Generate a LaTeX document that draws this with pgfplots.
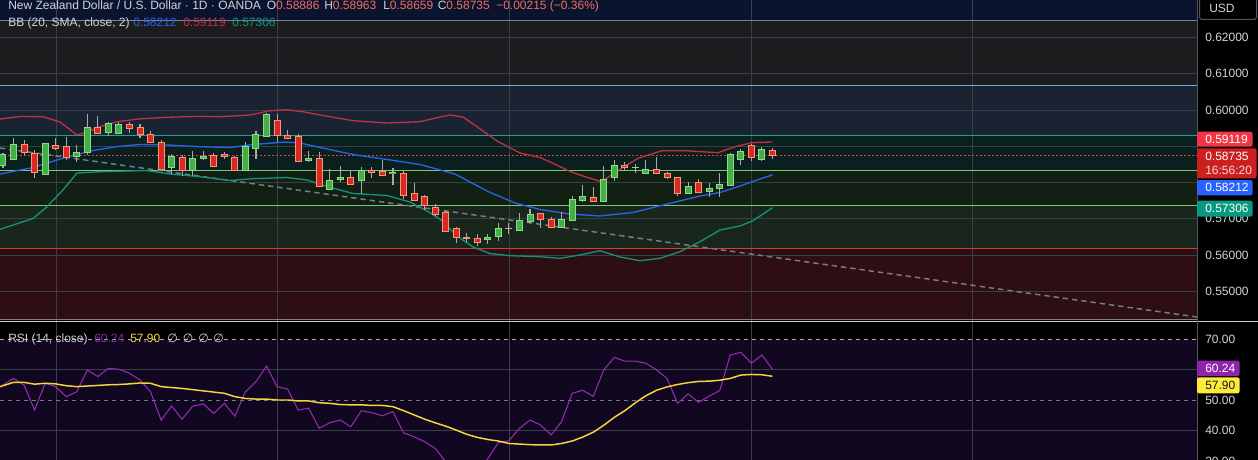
\documentclass[border=0pt]{standalone}
\usepackage{pgfplots}
\pgfplotsset{compat=1.18}
\usepackage{pgfplotstable}
\usepackage{fontspec}
\setmainfont{Liberation Sans}
\newfontfamily\dejavu{DejaVu Sans}

\definecolor{hdrbg}{RGB}{11,20,46}
\definecolor{zgray}{RGB}{28,28,30}
\definecolor{znavy}{RGB}{25,35,50}
\definecolor{zteal}{RGB}{10,32,30}
\definecolor{zgreenA}{RGB}{18,32,20}
\definecolor{zgreenB}{RGB}{25,38,28}
\definecolor{zred}{RGB}{44,14,19}
\definecolor{lhdr}{RGB}{120,130,150}
\definecolor{lblue}{RGB}{110,170,230}
\definecolor{lteal}{RGB}{40,160,140}
\definecolor{lgreen}{RGB}{120,200,120}
\definecolor{lred}{RGB}{215,60,60}
\definecolor{gridc}{RGB}{58,62,72}
\definecolor{txt}{RGB}{209,212,220}
\definecolor{valred}{RGB}{242,110,95}
\definecolor{bbup}{RGB}{190,48,70}
\definecolor{bbmid}{RGB}{41,98,235}
\definecolor{bblow}{RGB}{20,145,120}
\definecolor{upfill}{RGB}{67,176,71}
\definecolor{upedge}{RGB}{140,220,135}
\definecolor{dnfill}{RGB}{218,40,35}
\definecolor{dnedge}{RGB}{248,150,120}
\definecolor{wick}{RGB}{165,170,178}
\definecolor{trend}{RGB}{120,125,135}
\definecolor{rsibg}{RGB}{18,7,32}
\definecolor{rsic}{RGB}{145,45,175}
\definecolor{rsima}{RGB}{245,215,60}
\definecolor{boxred}{RGB}{242,54,69}
\definecolor{boxdred}{RGB}{204,32,32}
\definecolor{boxblue}{RGB}{41,98,255}
\definecolor{boxteal}{RGB}{8,153,129}
\definecolor{boxpurp}{RGB}{142,36,170}
\definecolor{boxyel}{RGB}{255,235,59}
\definecolor{sepc}{RGB}{200,200,205}
\definecolor{axsep}{RGB}{80,84,94}
\definecolor{dashc}{RGB}{120,123,134}
\definecolor{dashl}{RGB}{180,182,190}
\definecolor{darktxt}{RGB}{19,23,34}

% green (up) candles: i O H L C
\pgfplotstableread{
i O H L C
0 0.58483 0.58822 0.58409 0.58778
1 0.58640 0.59219 0.58621 0.59054
4 0.58227 0.59098 0.58207 0.59082
7 0.58723 0.59026 0.58574 0.58833
8 0.58822 0.59890 0.58759 0.59531
10 0.59385 0.59661 0.59291 0.59633
11 0.59346 0.59661 0.59330 0.59614
16 0.58409 0.58795 0.58227 0.58723
18 0.58345 0.58869 0.58171 0.58668
19 0.58668 0.58869 0.58621 0.58731
23 0.58337 0.59109 0.58320 0.59007
24 0.58944 0.59429 0.58640 0.59330
25 0.59264 0.59926 0.59250 0.59890
29 0.58613 0.58869 0.58574 0.58657
31 0.57813 0.58373 0.57800 0.58069
32 0.58089 0.58456 0.58006 0.58152
34 0.58069 0.58428 0.57692 0.58337
37 0.58243 0.58409 0.57931 0.58290
46 0.56423 0.56588 0.56304 0.56497
47 0.56506 0.56892 0.56395 0.56737
49 0.56690 0.57168 0.56671 0.56958
50 0.56919 0.57270 0.56892 0.57132
53 0.56754 0.57187 0.56737 0.56994
54 0.56966 0.57628 0.56950 0.57537
55 0.57498 0.57931 0.57463 0.57628
57 0.57482 0.58456 0.57470 0.58089
58 0.58144 0.58621 0.58050 0.58475
60 0.58409 0.58511 0.58254 0.58428
61 0.58254 0.58613 0.58240 0.58365
65 0.57703 0.58014 0.57690 0.57904
67 0.57758 0.57987 0.57609 0.57841
68 0.57829 0.58271 0.57609 0.57951
69 0.57923 0.58806 0.57910 0.58778
70 0.58640 0.58933 0.58491 0.58861
72 0.58629 0.58971 0.58602 0.58924
}\upc

% red (down) candles
\pgfplotstableread{
i O H L C
2 0.59054 0.59173 0.58759 0.58833
3 0.58806 0.58897 0.58133 0.58282
5 0.59026 0.59219 0.58889 0.58933
6 0.58980 0.59247 0.58621 0.58684
9 0.59523 0.59826 0.59340 0.59357
12 0.59606 0.59661 0.59357 0.59495
13 0.59523 0.59614 0.59219 0.59330
14 0.59330 0.59413 0.59082 0.59109
15 0.59109 0.59173 0.58337 0.58353
17 0.58704 0.58759 0.58171 0.58337
20 0.58759 0.58822 0.58420 0.58456
21 0.58786 0.58850 0.58640 0.58712
22 0.58704 0.58731 0.58326 0.58337
26 0.59697 0.59890 0.59109 0.59291
27 0.59302 0.59448 0.59192 0.59219
28 0.59264 0.59330 0.58574 0.58593
30 0.58668 0.58833 0.57876 0.57904
33 0.58152 0.58326 0.57931 0.57951
35 0.58337 0.58428 0.58116 0.58271
36 0.58318 0.58621 0.58188 0.58199
38 0.58254 0.58326 0.57537 0.57647
39 0.57703 0.57995 0.57490 0.57498
40 0.57620 0.57656 0.57242 0.57372
41 0.57316 0.57399 0.57085 0.57112
42 0.57187 0.57242 0.56627 0.56644
43 0.56737 0.56765 0.56324 0.56478
44 0.56478 0.56599 0.56351 0.56451
45 0.56462 0.56572 0.56257 0.56351
48 0.56746 0.56883 0.56572 0.56726
51 0.57132 0.57150 0.56754 0.56974
52 0.56994 0.57041 0.56740 0.56754
56 0.57592 0.57876 0.57454 0.57482
59 0.58483 0.58558 0.58345 0.58420
62 0.58373 0.58704 0.58235 0.58254
63 0.58254 0.58298 0.58105 0.58144
64 0.58144 0.58160 0.57628 0.57703
66 0.58006 0.58097 0.57703 0.57730
71 0.59007 0.59054 0.58602 0.58684
73 0.58886 0.58963 0.58659 0.58735
}\dnc

\pgfplotstableread{
i p
-0.28 0.59752
1.61 0.59821
3.80 0.59815
5.41 0.59669
7.02 0.59310
7.97 0.59393
9.20 0.59539
10.82 0.59677
13.00 0.59757
15.56 0.59799
18.69 0.59826
20.59 0.59815
23.43 0.59862
25.33 0.59981
26.94 0.60008
28.46 0.59953
30.08 0.59862
33.21 0.59705
36.43 0.59641
39.56 0.59677
41.46 0.59807
42.41 0.59862
43.64 0.59807
44.97 0.59539
46.87 0.59145
49.05 0.58814
50.95 0.58690
52.18 0.58530
53.80 0.58304
55.22 0.58160
56.80 0.58023
58.70 0.58400
60.25 0.58667
62.50 0.58877
64.71 0.58877
67.84 0.58822
69.45 0.58988
71.03 0.59098
73.00 0.59119
}\bbupper

\pgfplotstableread{
i p
-0.28 0.58235
2.85 0.58414
6.07 0.58704
8.54 0.58883
10.82 0.58993
13.00 0.59048
15.56 0.59035
18.69 0.58988
21.54 0.58966
23.72 0.59048
26.76 0.59117
28.18 0.59090
30.08 0.58966
33.21 0.58773
36.43 0.58635
39.56 0.58497
42.88 0.58235
46.02 0.57752
48.58 0.57435
50.95 0.57256
53.80 0.57132
56.64 0.57077
59.77 0.57173
63.00 0.57407
66.13 0.57628
68.03 0.57725
69.92 0.57904
71.82 0.58097
73.00 0.58212
}\bbmiddle

\pgfplotstableread{
i p
-0.28 0.56710
2.85 0.57008
4.17 0.57333
5.69 0.57794
7.02 0.58262
9.20 0.58298
13.66 0.58331
15.84 0.58235
18.69 0.58160
21.54 0.58056
23.72 0.58105
26.94 0.58138
28.84 0.58069
31.02 0.57868
33.21 0.57697
36.43 0.57642
38.61 0.57463
40.23 0.57214
41.46 0.56994
43.07 0.56525
44.59 0.56222
46.20 0.56042
48.10 0.55982
50.95 0.55954
52.85 0.55910
54.74 0.56001
56.64 0.56119
58.54 0.55946
60.44 0.55844
62.33 0.55910
64.23 0.56092
66.13 0.56368
68.03 0.56691
69.92 0.56801
71.16 0.56947
73.00 0.57306
}\bblower

\pgfplotstableread{
i r
-0.28 54.5
0 55.0
1 57.2
2 55.0
3 46.8
4 55.6
5 54.5
6 51.2
7 52.8
8 60.0
9 57.8
10 60.5
11 60.2
12 58.9
13 56.7
14 52.8
15 43.5
16 48.1
17 43.8
18 48.1
19 48.8
20 45.7
21 49.0
22 44.8
23 52.8
24 56.1
25 61.3
26 54.5
27 53.7
28 46.8
29 47.4
30 40.8
31 42.6
32 43.5
33 41.3
34 46.6
35 45.9
36 44.9
37 46.3
38 39.3
39 38.0
40 36.4
41 34.2
42 29.8
43 27.0
44 27.5
45 26.5
46 30.8
47 36.1
48 36.7
49 40.8
50 43.5
51 41.9
52 38.6
53 43.0
54 52.3
55 53.3
56 51.3
57 60.0
58 64.1
59 62.9
60 62.9
61 62.2
62 60.0
63 57.2
64 49.0
65 52.1
66 49.3
67 51.4
68 53.2
69 64.9
70 65.8
71 62.2
72 64.9
73 60.24
}\rsitab

\pgfplotstableread{
i m
-0.28 54.5
0 54.8
1 55.9
2 55.9
3 55.3
4 55.6
5 55.4
6 54.8
7 54.5
8 54.7
9 54.9
10 55.1
11 55.2
12 55.4
13 55.7
14 55.6
15 54.5
16 54.2
17 53.9
18 53.5
19 53.1
20 52.7
21 52.3
22 51.2
23 50.6
24 50.4
25 50.4
26 50.1
27 50.1
28 49.8
29 49.8
30 49.2
31 49.0
32 48.6
33 48.5
34 48.5
35 48.3
36 48.3
37 47.9
38 46.6
39 45.2
40 43.8
41 42.6
42 41.5
43 40.2
44 38.8
45 37.8
46 37.1
47 36.6
48 35.8
49 35.6
50 35.4
51 35.3
52 35.3
53 35.8
54 36.6
55 37.9
56 39.5
57 41.8
58 44.4
59 46.6
60 49.2
61 51.5
62 53.3
63 54.4
64 55.2
65 55.8
66 56.2
67 56.3
68 56.6
69 57.2
70 58.3
71 58.5
72 58.4
73 57.9
}\rsimatab

\begin{document}
\begin{tikzpicture}
\useasboundingbox (0pt,0pt) rectangle (943.5pt,-345pt);
\clip (0pt,0pt) rectangle (943.5pt,-345pt);
\fill[black] (0pt,0pt) rectangle (943.5pt,-345pt);

%================ MAIN PRICE PANEL ================
\begin{axis}[
  at={(0pt,0pt)}, anchor=north west, scale only axis,
  width=897.75pt, height=240pt,
  xmin=-0.2846, xmax=113.28, ymin=0.542082, ymax=0.630338,
  axis line style={draw=none}, major tick length=0pt, tick style={draw=none},
  xtick=\empty,
  ytick={0.55,0.56,0.57,0.60,0.61,0.62},
  yticklabel pos=right, scaled y ticks=false,
  /pgf/number format/fixed, /pgf/number format/fixed zerofill,
  /pgf/number format/precision=5, /pgf/number format/assume math mode=true,
  yticklabel style={font=\fontsize{9}{10}\selectfont, text=txt, anchor=west, inner sep=0pt, xshift=6pt},
]
% zones
\fill[hdrbg] (axis cs:-1,0.62455) rectangle (axis cs:114,0.64);
\fill[zgray] (axis cs:-1,0.60681) rectangle (axis cs:114,0.62455);
\fill[znavy] (axis cs:-1,0.59302) rectangle (axis cs:114,0.60681);
\fill[zteal] (axis cs:-1,0.58337) rectangle (axis cs:114,0.59302);
\fill[zgreenA] (axis cs:-1,0.57372) rectangle (axis cs:114,0.58337);
\fill[zgreenB] (axis cs:-1,0.56175) rectangle (axis cs:114,0.57372);
\fill[zred] (axis cs:-1,0.54228) rectangle (axis cs:114,0.56175);
% grid
\draw[gridc, line width=0.75pt] (axis cs:-1,0.55) -- (axis cs:114,0.55);
\draw[gridc, line width=0.75pt] (axis cs:-1,0.56) -- (axis cs:114,0.56);
\draw[gridc, line width=0.75pt] (axis cs:-1,0.57) -- (axis cs:114,0.57);
\draw[gridc, line width=0.75pt] (axis cs:-1,0.58) -- (axis cs:114,0.58);
\draw[gridc, line width=0.75pt] (axis cs:-1,0.59) -- (axis cs:114,0.59);
\draw[gridc, line width=0.75pt] (axis cs:-1,0.60) -- (axis cs:114,0.60);
\draw[gridc, line width=0.75pt] (axis cs:-1,0.61) -- (axis cs:114,0.61);
\draw[gridc, line width=0.75pt] (axis cs:-1,0.62) -- (axis cs:114,0.62);
\draw[gridc, line width=0.75pt] (axis cs:5.12,0.54) -- (axis cs:5.12,0.631);
\draw[gridc, line width=0.75pt] (axis cs:26.09,0.54) -- (axis cs:26.09,0.631);
\draw[gridc, line width=0.75pt] (axis cs:48.01,0.54) -- (axis cs:48.01,0.631);
\draw[gridc, line width=0.75pt] (axis cs:71.06,0.54) -- (axis cs:71.06,0.631);
\draw[gridc, line width=0.75pt] (axis cs:91.94,0.54) -- (axis cs:91.94,0.631);
% zone edges
\draw[lhdr, line width=0.75pt] (axis cs:-1,0.62455) -- (axis cs:114,0.62455);
\draw[lblue, line width=0.75pt] (axis cs:-1,0.60681) -- (axis cs:114,0.60681);
\draw[lteal, line width=0.75pt] (axis cs:-1,0.59302) -- (axis cs:114,0.59302);
\draw[lgreen, line width=0.75pt] (axis cs:-1,0.58337) -- (axis cs:114,0.58337);
\draw[lgreen, line width=0.75pt] (axis cs:-1,0.57372) -- (axis cs:114,0.57372);
\draw[lred, line width=0.75pt] (axis cs:-1,0.56175) -- (axis cs:114,0.56175);
\draw[gray, line width=0.6pt] (axis cs:-1,0.54228) -- (axis cs:114,0.54228);
% last price dotted line
\draw[boxred, line width=0.75pt, dash pattern=on 0.9pt off 2.1pt] (axis cs:-1,0.58735) -- (axis cs:114,0.58735);
% trend line
\addplot[trend, line width=1.1pt, dash pattern=on 4pt off 3pt] coordinates {(-0.2846,0.58952) (113.28,0.54291)};
% Bollinger bands
\addplot[bbup, line width=1pt] table[x=i,y=p] {\bbupper};
\addplot[bbmid, line width=1pt] table[x=i,y=p] {\bbmiddle};
\addplot[bblow, line width=1pt] table[x=i,y=p] {\bblower};
% wicks
\addplot[draw=none, mark=none, error bars/.cd, y dir=both, y explicit, error mark=none,
  error bar style={draw=wick, solid, line width=0.8pt}]
  table[x=i, y expr={(\thisrow{H}+\thisrow{L})/2}, y error expr={(\thisrow{H}-\thisrow{L})/2}] {\upc};
\addplot[draw=none, mark=none, error bars/.cd, y dir=both, y explicit, error mark=none,
  error bar style={draw=wick, solid, line width=0.8pt}]
  table[x=i, y expr={(\thisrow{H}+\thisrow{L})/2}, y error expr={(\thisrow{H}-\thisrow{L})/2}] {\dnc};
% bodies: border
\addplot[draw=none, mark=none, error bars/.cd, y dir=both, y explicit, error mark=none,
  error bar style={draw=upedge, solid, line width=5.25pt, line cap=butt}]
  table[x=i, y expr={(\thisrow{O}+\thisrow{C})/2}, y error expr={abs(\thisrow{O}-\thisrow{C})/2+0.000138}] {\upc};
\addplot[draw=none, mark=none, error bars/.cd, y dir=both, y explicit, error mark=none,
  error bar style={draw=dnedge, solid, line width=5.25pt, line cap=butt}]
  table[x=i, y expr={(\thisrow{O}+\thisrow{C})/2}, y error expr={abs(\thisrow{O}-\thisrow{C})/2+0.000138}] {\dnc};
% bodies: fill
\addplot[draw=none, mark=none, error bars/.cd, y dir=both, y explicit, error mark=none,
  error bar style={draw=upfill, solid, line width=3.75pt, line cap=butt}]
  table[x=i, y expr={(\thisrow{O}+\thisrow{C})/2}, y error expr={max(abs(\thisrow{O}-\thisrow{C})/2-0.000138,0)}] {\upc};
\addplot[draw=none, mark=none, error bars/.cd, y dir=both, y explicit, error mark=none,
  error bar style={draw=dnfill, solid, line width=3.75pt, line cap=butt}]
  table[x=i, y expr={(\thisrow{O}+\thisrow{C})/2}, y error expr={max(abs(\thisrow{O}-\thisrow{C})/2-0.000138,0)}] {\dnc};
\end{axis}

%================ RSI PANEL ================
\begin{axis}[
  at={(0pt,-241.5pt)}, anchor=north west, scale only axis,
  width=897.75pt, height=103.5pt,
  xmin=-0.2846, xmax=113.28, ymin=30.36, ymax=75.76,
  axis line style={draw=none}, major tick length=0pt, tick style={draw=none},
  xtick=\empty,
  ytick={40,50,70},
  yticklabel pos=right, scaled y ticks=false,
  /pgf/number format/fixed, /pgf/number format/fixed zerofill,
  /pgf/number format/precision=2, /pgf/number format/assume math mode=true,
  yticklabel style={font=\fontsize{9}{10}\selectfont, text=txt, anchor=west, inner sep=0pt, xshift=6pt},
]
\fill[rsibg] (axis cs:-1,30) rectangle (axis cs:114,70);
\draw[gridc, line width=0.75pt] (axis cs:5.12,30) -- (axis cs:5.12,76);
\draw[gridc, line width=0.75pt] (axis cs:26.09,30) -- (axis cs:26.09,76);
\draw[gridc, line width=0.75pt] (axis cs:48.01,30) -- (axis cs:48.01,76);
\draw[gridc, line width=0.75pt] (axis cs:71.06,30) -- (axis cs:71.06,76);
\draw[gridc, line width=0.75pt] (axis cs:91.94,30) -- (axis cs:91.94,76);
\draw[gridc, line width=0.75pt] (axis cs:-1,40) -- (axis cs:114,40);
\draw[gridc, line width=0.75pt] (axis cs:-1,60) -- (axis cs:114,60);
\draw[dashc, line width=0.75pt, dash pattern=on 3pt off 3pt] (axis cs:-1,50) -- (axis cs:114,50);
\draw[dashc, line width=0.75pt, dash pattern=on 3pt off 3pt] (axis cs:-1,30) -- (axis cs:114,30);
\draw[dashl, line width=0.75pt, dash pattern=on 3pt off 3pt] (axis cs:-1,70) -- (axis cs:114,70);
\addplot[rsic, line width=0.8pt] table[x=i,y=r] {\rsitab};
\addplot[rsima, line width=1.1pt] table[x=i,y=m] {\rsimatab};
\end{axis}

%================ OVERLAYS (pixel units) ================
\begin{scope}[x=0.75pt, y=-0.75pt, every node/.style={inner sep=0pt, font=\fontsize{9}{10}\selectfont}]
\draw[sepc, line width=0.75pt] (0,321.5) -- (1258,321.5);
\draw[axsep, line width=0.75pt] (1197,0) -- (1197,460);
\draw[axsep, fill=black, rounded corners=2pt, line width=0.75pt] (1199.5,-4) rectangle (1256.5,19.5);
\node[anchor=base west, text=txt] at (1209,12.5) {USD};
\node[anchor=west, text=txt] at (1205,461.5) {30.00};
\node[anchor=base west, text=txt] at (8,10) {New Zealand Dollar / U.S. Dollar · 1D · OANDA};
\node[anchor=base west, text=txt] at (266.5,10) {O\textcolor{valred}{0.58886}};
\node[anchor=base west, text=txt] at (324,10) {H\textcolor{valred}{0.58963}};
\node[anchor=base west, text=txt] at (383,10) {L\textcolor{valred}{0.58659}};
\node[anchor=base west, text=txt] at (437.5,10) {C\textcolor{valred}{0.58735}};
\node[anchor=base west, text=valred] at (496,10) {−0.00215 (−0.36\%)};
\node[anchor=base west, text=txt] at (8,26.7) {BB (20, SMA, close, 2)};
\node[anchor=base west, text=bbmid] at (133,26.7) {0.58212};
\node[anchor=base west, text=bbup] at (183,26.7) {0.59119};
\node[anchor=base west, text=boxteal] at (232,26.7) {0.57306};
\node[anchor=base west, text=txt] at (8,342.5) {RSI (14, close)};
\node[anchor=base west, text=rsic] at (94,342.5) {60.24};
\node[anchor=base west, text=rsima] at (130,342.5) {57.90};
\node[anchor=base west, text=txt] at (167,342.5) {\dejavu ∅};
\node[anchor=base west, text=txt] at (182.5,342.5) {\dejavu ∅};
\node[anchor=base west, text=txt] at (198,342.5) {\dejavu ∅};
\node[anchor=base west, text=txt] at (213,342.5) {\dejavu ∅};
\fill[boxred, rounded corners=1.5pt] (1197,131.7) rectangle (1252.5,146.7);
\node[anchor=west, text=white] at (1205,139.3) {0.59119};
\fill[boxdred, rounded corners=1.5pt] (1197,148.3) rectangle (1256.5,178.3);
\node[anchor=west, text=white] at (1205,156.7) {0.58735};
\node[anchor=west, text=white!80!boxred] at (1205,170.7) {16:56:20};
\fill[boxblue, rounded corners=1.5pt] (1197,180) rectangle (1252.5,195.3);
\node[anchor=west, text=white] at (1205,187.5) {0.58212};
\fill[boxteal, rounded corners=1.5pt] (1197,200.7) rectangle (1252.5,216.7);
\node[anchor=west, text=white] at (1205,208.7) {0.57306};
\fill[boxpurp, rounded corners=1.5pt] (1197,360.7) rectangle (1239.5,376);
\node[anchor=west, text=white] at (1205,368.5) {60.24};
\fill[boxyel, rounded corners=1.5pt] (1197,377.3) rectangle (1239.5,393.3);
\node[anchor=west, text=darktxt] at (1205,385.3) {57.90};
\end{scope}
\end{tikzpicture}
\end{document}
